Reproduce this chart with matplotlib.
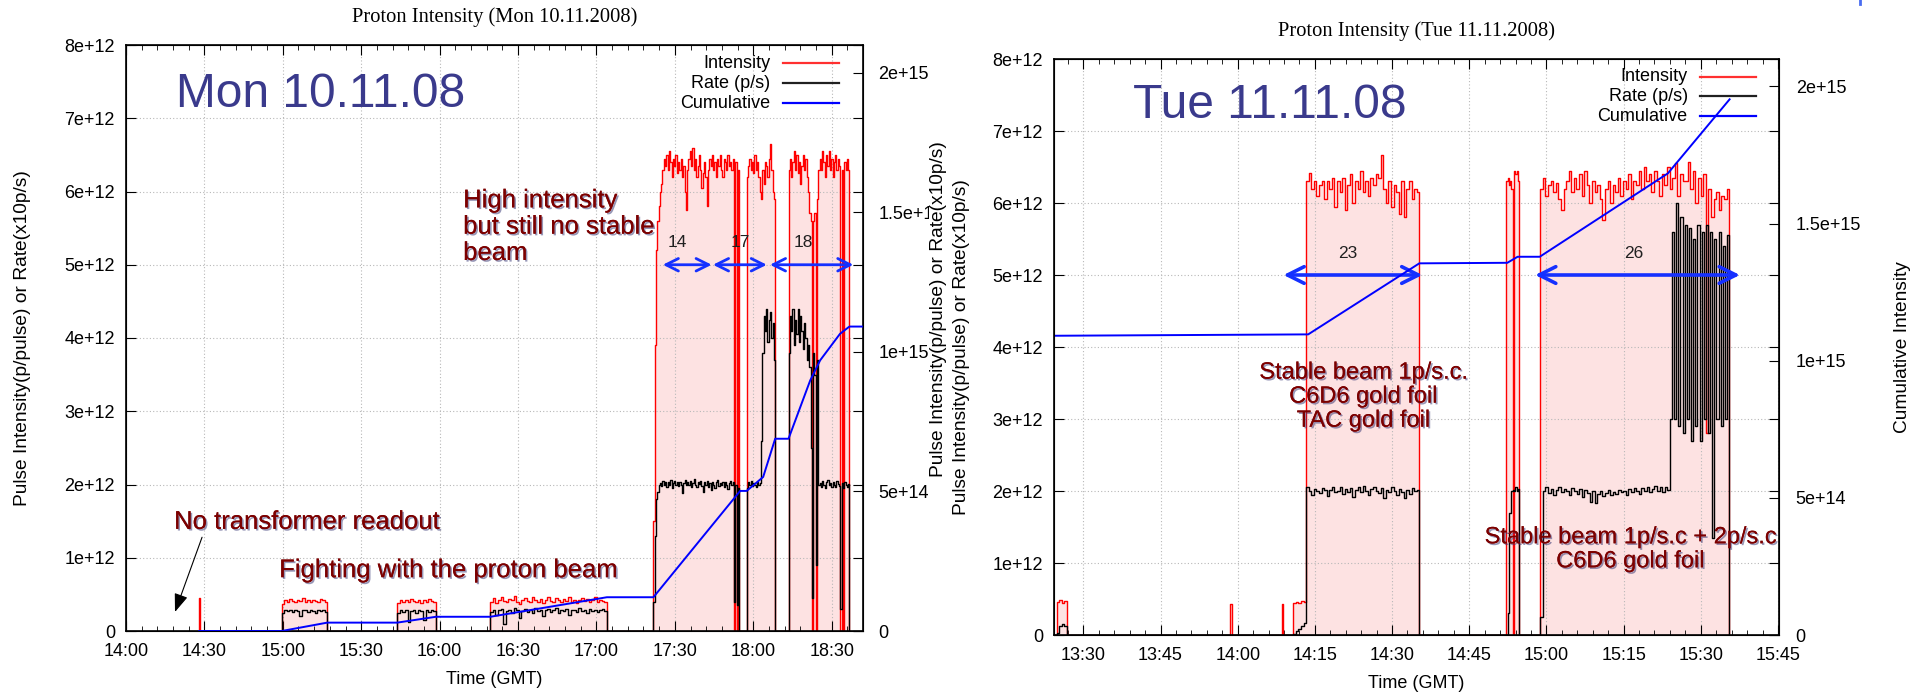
import numpy as np
import matplotlib
matplotlib.use("Agg")
import matplotlib.pyplot as plt
import matplotlib.patheffects as pe
from matplotlib.ticker import MultipleLocator, FuncFormatter

plt.rcParams['font.family'] = ['Liberation Sans', 'DejaVu Sans']

# all times are minutes of the day, intensities in 1e12, cumulative in 1e15
# ---------------- Mon 10.11.2008 ----------------
mon_red = [
    (868.0, 868.4, [0.45]),
    (899.6, 917.0, [0.37, 0.42, 0.40, 0.44, 0.41, 0.39, 0.43, 0.41, 0.45, 0.40, 0.42, 0.39, 0.43, 0.41, 0.40, 0.44, 0.42, 0.40]),
    (943.8, 958.6, [0.38, 0.43, 0.40, 0.42, 0.39, 0.44, 0.41, 0.40, 0.43, 0.38, 0.42, 0.40, 0.44, 0.41, 0.39]),
    (979.4, 1024.0, [0.40, 0.45, 0.38, 0.43, 0.47, 0.41, 0.39, 0.44, 0.42, 0.48, 0.40, 0.37, 0.43, 0.45, 0.41,
                     0.39, 0.46, 0.42, 0.40, 0.44, 0.38, 0.43, 0.47, 0.41, 0.40, 0.45, 0.42, 0.39, 0.44, 0.41,
                     0.46, 0.40, 0.43, 0.38, 0.42, 0.45, 0.41, 0.44, 0.39, 0.42, 0.46, 0.40, 0.43, 0.41, 0.39]),
    (1041.8, 1074.6, [1.5, 3.9, 5.2, 5.6, 5.8, 6.0, 6.1, 6.3, 6.45, 6.35,
                      6.5, 6.3, 6.55, 6.4, 6.2, 6.45, 6.35, 6.5, 6.25, 6.4,
                      6.3, 6.45, 6.2, 6.35, 6.0, 5.75, 6.3, 6.45, 6.55, 6.35,
                      6.6, 6.3, 6.45, 6.2, 6.35, 6.5, 6.3, 6.05, 6.25, 6.4,
                      6.2, 5.8, 6.3, 6.45, 6.35, 6.5, 6.3, 6.4, 6.2, 6.45,
                      6.35, 6.5, 6.3, 6.2, 6.45, 6.4, 6.3, 6.5, 6.35, 6.4, 6.3, 6.45,
                      0.0, 6.4, 0.0, 6.3]),
    (1077.5, 1088.4, [6.2, 6.35, 6.45, 6.3, 6.4, 6.25, 6.5, 6.3, 6.4, 6.2, 6.0,
                      5.9, 6.3, 6.1, 6.4, 6.35, 6.2, 6.45, 6.65, 6.3, 6.0, 5.9]),
    (1093.5, 1116.8, [6.3, 6.45, 6.2, 6.4, 6.55, 6.3, 6.5, 6.25, 6.4, 6.1, 6.35, 6.5, 6.3, 6.45, 6.2, 6.0,
                      5.7, 5.6, 0.0, 5.6, 5.7, 0.0, 5.9, 6.3,
                      6.45, 6.3, 6.55, 6.4, 6.2, 6.5, 6.35, 6.55, 6.3, 6.45, 6.2, 6.4, 6.5, 6.3, 6.45, 6.35,
                      0.0, 6.3, 0.0, 6.4, 6.3, 6.45, 6.3]),
]
mon_black = [
    (899.6, 917.0, [0.24, 0.28, 0.27, 0.29, 0.26, 0.28, 0.27, 0.20, 0.28, 0.29, 0.26, 0.28, 0.27, 0.25, 0.29, 0.27, 0.28, 0.26]),
    (943.8, 958.6, [0.25, 0.28, 0.26, 0.29, 0.12, 0.27, 0.28, 0.25, 0.29, 0.27, 0.15, 0.28, 0.26, 0.28, 0.27]),
    (979.4, 1024.0, [0.26, 0.29, 0.22, 0.28, 0.30, 0.10, 0.27, 0.29, 0.25, 0.31, 0.28, 0.18, 0.27, 0.30, 0.26,
                     0.29, 0.24, 0.31, 0.27, 0.28, 0.21, 0.29, 0.30, 0.26, 0.28, 0.31, 0.25, 0.29, 0.27, 0.30,
                     0.22, 0.28, 0.29, 0.26, 0.31, 0.27, 0.28, 0.24, 0.30, 0.27, 0.29, 0.26, 0.28, 0.30, 0.27]),
    (1041.8, 1074.6, [0.4, 1.3, 1.8, 1.9, 2.0, 2.02, 1.98, 2.05, 2.0, 2.03,
                      1.97, 2.04, 2.0, 2.06, 1.95, 2.02, 2.05, 1.99, 2.03, 1.98,
                      2.04, 2.0, 1.88, 2.02, 2.06, 1.99, 2.03, 2.0, 2.05, 1.97,
                      2.02, 2.07, 2.0, 1.96, 2.04, 2.01, 2.05, 1.98, 1.9, 2.03,
                      2.0, 2.05, 1.97, 2.02, 1.92, 2.04, 2.0, 1.95, 2.03, 2.06,
                      1.98, 2.02, 2.0, 2.04, 1.96, 2.03, 2.0, 1.94, 2.02, 2.05, 1.99, 2.03,
                      0.4, 2.0, 0.35, 1.95]),
    (1077.5, 1088.4, [1.95, 2.03, 2.0, 2.05, 1.98, 2.02, 2.0, 1.96, 2.04, 2.0, 2.02,
                      2.6, 3.8, 4.3, 4.1, 4.4, 3.95, 4.25, 4.35, 4.0, 4.2, 3.7]),
    (1093.5, 1116.8, [3.8, 4.3, 4.1, 4.4, 3.9, 4.25, 4.05, 4.4, 3.95, 4.3, 4.1, 3.85, 4.2, 4.0, 3.7, 3.9,
                      3.6, 2.5, 0.45, 3.8, 3.5, 0.9, 3.7, 2.0,
                      2.02, 1.97, 2.05, 2.0, 1.95, 2.03, 2.06, 1.99, 2.02, 1.96, 2.04, 2.0, 1.97, 2.05,
                      2.01, 1.98, 0.3, 2.02, 1.95, 2.04, 2.0, 1.97, 2.01]),
]
mon_cum_t = [868, 899.6, 917.0, 943.8, 958.6, 979.4, 1024.0, 1041.8, 1075.0, 1077.5,
             1083.8, 1088.4, 1093.5, 1101.8, 1105.6, 1113.2, 1116.8, 1121.6]
mon_cum_v = [0, 0, 0.030, 0.030, 0.051, 0.051, 0.121, 0.121, 0.502, 0.502,
             0.552, 0.689, 0.689, 0.898, 0.970, 1.065, 1.091, 1.091]
mon_runs = [("14", 1045.4, 1064.1, 1051), ("17", 1064.6, 1085.2, 1075), ("18", 1086.4, 1118.3, 1099)]

# ---------------- Tue 11.11.2008 ----------------
tue_red = [
    (804.8, 806.8, [0.46, 0.48, 0.45, 0.47]),
    (838.6, 838.8, [0.43]),
    (848.7, 848.9, [0.43]),
    (850.8, 853.3, [0.45, 0.46, 0.44, 0.47, 0.46]),
    (853.3, 875.3, [6.3, 6.42, 6.2, 6.3, 6.1, 6.25, 6.3, 6.05, 6.3, 6.2, 6.35, 5.95, 6.3, 6.15, 6.35,
                    5.9, 6.25, 6.4, 6.0, 6.3, 6.2, 6.45, 6.15, 6.3, 6.1, 6.35, 6.25, 6.4, 6.35, 6.67,
                    6.2, 6.0, 6.3, 5.95, 6.25, 6.15, 5.85, 6.3, 5.8, 6.2, 6.3, 6.05, 6.2, 6.15]),
    (892.2, 894.7, [6.3, 6.35, 6.25, 6.3, 6.2, 0.0, 6.45, 6.4, 6.45, 6.3]),
    (898.8, 935.5, [6.2, 6.35, 6.1, 6.25, 6.3, 6.15, 6.28, 6.05, 5.9, 6.2,
                    6.3, 6.45, 6.15, 6.35, 6.2, 6.4, 6.1, 6.45, 6.25, 6.0,
                    6.3, 6.15, 6.25, 6.05, 5.76, 6.2, 6.3, 6.0, 6.25, 6.15,
                    6.35, 6.1, 6.3, 6.2, 6.4, 6.05, 6.3, 6.25, 6.45, 6.2,
                    6.5, 6.3, 6.4, 6.15, 6.45, 6.3, 6.1, 6.4, 6.25, 6.5,
                    6.2, 6.35, 6.55, 6.1, 6.4, 6.3, 6.3, 6.57, 6.2, 6.45,
                    6.0, 6.35, 6.1, 6.4, 2.8, 6.2, 5.8, 6.05, 6.15, 5.9,
                    6.1, 6.05, 6.2]),
]
tue_black = [
    (804.8, 806.8, [0.03, 0.13, 0.15, 0.12]),
    (850.8, 853.3, [0.02, 0.05, 0.08, 0.12, 0.16]),
    (853.3, 875.3, [2.05, 2.0, 1.95, 2.03, 2.0, 1.97, 2.04, 2.01, 1.93, 2.02, 2.05, 1.98, 2.0, 2.06, 1.96,
                    2.03, 1.99, 2.04, 1.92, 2.01, 2.05, 1.98, 2.07, 2.0, 1.95, 2.03, 2.06, 2.0, 1.97, 2.04,
                    1.9, 2.02, 1.98, 2.05, 2.0, 1.94, 2.03, 1.99, 1.9, 2.02, 1.96, 2.04, 2.0, 2.02]),
    (892.2, 894.7, [0.0, 0.3, 1.7, 1.7, 2.0, 2.02, 2.0, 2.05, 2.0, 2.03]),
    (898.8, 899.3, [0.25]),
    (899.3, 924.0, [2.0, 2.05, 1.97, 2.03, 1.95, 2.02, 2.06, 1.98, 2.03, 2.0,
                    1.94, 2.04, 2.0, 1.96, 2.03, 1.92, 2.01, 1.97, 1.85, 2.0,
                    1.84, 1.96, 2.0, 1.93, 1.97, 2.02, 1.95, 1.99, 1.96, 2.02,
                    1.98, 2.0, 1.95, 2.03, 1.98, 2.04, 2.0, 1.96, 2.04, 2.0,
                    2.05, 1.98, 2.03, 2.07, 2.0, 2.05, 1.98, 2.06, 2.02]),
    (924.0, 935.5, [3.0, 5.6, 3.0, 6.0, 2.9, 5.8, 2.8, 5.7, 3.0, 5.65, 2.7, 5.5, 2.9, 5.7,
                    2.7, 5.6, 3.0, 5.7, 2.8, 5.6, 1.35, 5.5, 3.0, 5.6, 2.9, 5.4, 3.0, 5.55]),
]
tue_cum_t = [804.3, 853.7, 875.3, 892.4, 894.4, 898.7, 923.6, 935.6]
tue_cum_v = [1.091, 1.096, 1.355, 1.357, 1.379, 1.379, 1.683, 1.953]
tue_runs = [("23", 848.9, 875.9, 861.3), ("26", 897.8, 937.6, 917.0)]

y1_ticks = [0, 1, 2, 3, 4, 5, 6, 7, 8]
y1_labels = ["0", "1e+12", "2e+12", "3e+12", "4e+12", "5e+12", "6e+12", "7e+12", "8e+12"]
y2_ticks = [0, 0.5, 1.0, 1.5, 2.0]
y2_labels = ["0", "5e+14", "1e+15", "1.5e+15", "2e+15"]
ylab = "Pulse Intensity(p/pulse) or Rate(x10p/s)"


def steps(blocks, t0):
    t, v = [t0], [0.0]
    for i, (a, b, vals) in enumerate(blocks):
        n = len(vals)
        for k, y in enumerate(vals):
            t.append(a + (b - a) * k / n)
            v.append(y)
        nxt = blocks[i + 1][0] if i + 1 < len(blocks) else None
        if nxt is None or nxt > b + 1e-6:
            t.append(b)
            v.append(0.0)
    return np.array(t), np.array(v)


def hhmm(x, pos):
    m = int(round(x))
    return "%02d:%02d" % (m // 60, m % 60)


W, H = 1927, 693
fig = plt.figure(figsize=(W / 100, H / 100), dpi=100)
shadow = [pe.withSimplePatchShadow(offset=(1.2, -1.2), shadow_rgbFace='#303070', alpha=0.5), pe.Normal()]
maroon = '#7c0000'


def panel(box, red, black, t0, cum_t, cum_v, xlim, major, minor, title, date, runs, yl2, arrow_ms, arrow_lw):
    l, t, r, b = box
    ax = fig.add_axes([l / W, 1 - b / H, (r - l) / W, (b - t) / H])
    ax2 = ax.twinx()
    pw, ph = r - l, b - t

    tr, vr = steps(red, t0)
    tb, vb = steps(black, t0)
    ax.fill_between(tr, 0, vr, step='post', color='#fde2e2', lw=0, zorder=1)
    ax.plot(tr, vr, drawstyle='steps-post', color='#ff0000', lw=1.0, zorder=2)
    ax.plot(tb, vb, drawstyle='steps-post', color='#000000', lw=1.0, zorder=2.1)
    ax2.plot(cum_t, cum_v, color='#0000ff', lw=1.4)

    ax.set_xlim(*xlim)
    ax.set_ylim(0, 8)
    ax2.set_ylim(0, 2.1)
    ax.xaxis.set_major_locator(MultipleLocator(major))
    ax.xaxis.set_minor_locator(MultipleLocator(minor))
    ax.xaxis.set_major_formatter(FuncFormatter(hhmm))
    ax.set_yticks(y1_ticks)
    ax.set_yticklabels(y1_labels)
    ax2.set_yticks(y2_ticks)
    ax2.set_yticklabels(y2_labels)
    ax.tick_params(which='both', direction='in', top=True, right=True, labelsize=13)
    ax.tick_params(which='major', length=7)
    ax.tick_params(which='minor', length=3.5)
    ax.tick_params(axis='x', pad=9)
    ax.tick_params(axis='y', pad=8)
    ax2.tick_params(direction='in', length=7, pad=yl2[4], labelsize=13)
    ax.grid(True, which='major', linestyle=(0, (1, 2)), color='#b8b8b8', lw=0.8)
    for sp in ax.spines.values():
        sp.set_linewidth(1.2)

    ax.set_xlabel("Time (GMT)", fontsize=13, va='center')
    ax.xaxis.set_label_coords(0.5, -49 / ph)
    ax.set_ylabel(ylab, fontsize=13.8, va='center')
    ax.yaxis.set_label_coords(yl2[0], 0.5)
    ax2.set_ylabel(yl2[2], fontsize=13.8, va='center', ha='center',
                   bbox=dict(facecolor='white', edgecolor='none', pad=0.5))
    ax2.yaxis.set_label_coords(yl2[1], yl2[3])

    ax.text(0.5, 1 + 28 / ph, title, transform=ax.transAxes, ha='center', va='center',
            fontsize=14.8, family='Liberation Serif')
    ax.text(date[1], date[2], date[0], transform=ax.transAxes, ha='left', va='center',
            fontsize=34.5, color='#3a3a8c')

    # legend, gnuplot style (text right-justified, sample on the right)
    for lab, c, yy in [("Intensity", '#ff3030', 0.969), ("Rate (p/s)", '#202020', 0.935), ("Cumulative", '#0000ff', 0.901)]:
        ax2.text(0.874, yy, lab, transform=ax.transAxes, ha='right', va='center', fontsize=13)
        ax2.plot([0.891, 0.968], [yy, yy], transform=ax.transAxes, color=c, lw=1.6)

    for lab, a, bb, xl in runs:
        ax.annotate("", xy=(bb, 5.0), xytext=(a, 5.0),
                    arrowprops=dict(arrowstyle='<->,head_length=0.5,head_width=0.25', color='#1530ff',
                                    lw=arrow_lw, shrinkA=0, shrinkB=0, mutation_scale=arrow_ms), zorder=3)
        ax.text(xl, 5.3, lab, ha='center', va='center', fontsize=12.5, color='#202020', zorder=3)
    return ax, ax2


ax, ax2 = panel((126, 45, 863, 631), mon_red, mon_black, 868.0, mon_cum_t, mon_cum_v,
                (840, 1122), 30, 6, "Proton Intensity (Mon 10.11.2008)",
                ("Mon 10.11.08", 0.068, 0.9155), mon_runs, (-0.141, 1.102, ylab, 0.55, 11), 18, 2.0)
ax.text(969, 5.52, "High intensity\nbut still no stable\nbeam", ha='left', va='center',
        fontsize=18.5, color=maroon, linespacing=1.12, path_effects=shadow, zorder=4)
ax.text(858.4, 1.49, "No transformer readout", ha='left', va='center',
        fontsize=18.5, color=maroon, path_effects=shadow, zorder=4)
ax.text(898.6, 0.83, "Fighting with the proton beam", ha='left', va='center',
        fontsize=18.5, color=maroon, path_effects=shadow, zorder=4)
ax.annotate("", xy=(858.75, 0.26), xytext=(869.1, 1.28),
            arrowprops=dict(arrowstyle='-|>,head_length=0.8,head_width=0.3', color='black', lw=0.8,
                            shrinkA=0, shrinkB=0, mutation_scale=14))

bx, bx2 = panel((1054, 59, 1779, 635), tue_red, tue_black, 804.3, tue_cum_t, tue_cum_v,
                (804.3, 945.2), 15, 3, "Proton Intensity (Tue 11.11.2008)",
                ("Tue 11.11.08", 0.109, 0.92), tue_runs, (-0.127, 1.171, "Cumulative Intensity", 0.5, 12), 24, 2.6)
bx.text(864.5, 3.31, "Stable beam 1p/s.c.\nC6D6 gold foil\nTAC gold foil", ha='center', va='center',
        fontsize=17, color=maroon, linespacing=1.12, path_effects=shadow, zorder=4)
bx.text(916.4, 1.19, "Stable beam 1p/s.c + 2p/s.c\nC6D6 gold foil", ha='center', va='center',
        fontsize=17, color=maroon, linespacing=1.12, path_effects=shadow, zorder=4)

fig.add_artist(plt.Line2D([1860 / W, 1860 / W], [1 - 4 / H, 1.0], color='#4a6cf0', lw=2))

fig.savefig("out.png", dpi=100)
